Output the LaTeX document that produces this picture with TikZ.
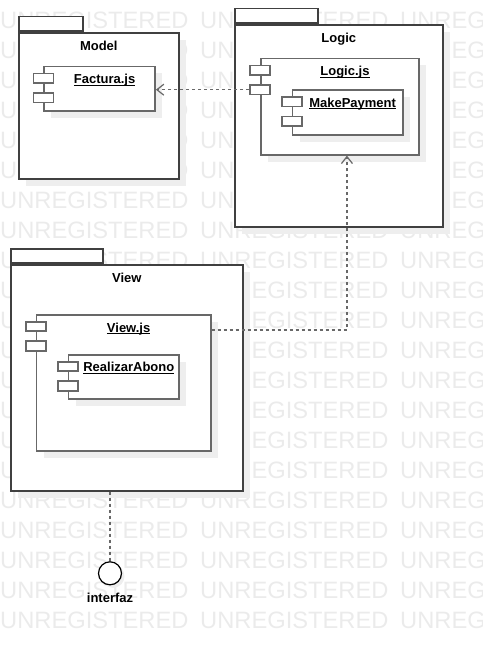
\documentclass[tikz,border=0pt]{standalone}
\usepackage{fontspec}
\setmainfont{Liberation Sans}
\usetikzlibrary{arrows.meta, positioning, shadows}

\definecolor{lineapkg}{HTML}{404040}
\definecolor{lineacmp}{HTML}{686868}
\definecolor{sombra}{HTML}{EEEEEE}
\definecolor{marca}{HTML}{EBEBEB}

% subrayado a altura fija, como en el original
\newcommand{\subrayado}[1]{\setbox0\hbox{#1}\rlap{\rule[-2pt]{\wd0}{0.9pt}}\box0}

\begin{document}
\begin{tikzpicture}[
		x=1pt, y=-1pt,
		% Paquete: cuerpo y pestaña
		pkg/.style = {draw=lineapkg, line width=1.6pt, fill=white, anchor=north west, inner sep=0pt,
			general shadow={fill=sombra, shadow xshift=7pt, shadow yshift=-7pt}},
		pkg_tab/.style = {draw=lineapkg, line width=1.6pt, fill=white, anchor=south west, inner sep=0pt, minimum height=14.5pt},
		% Componente y sus dos puertos
		comp/.style = {draw=lineacmp, line width=1.6pt, fill=white, anchor=north west, inner sep=0pt,
			general shadow={fill=sombra, shadow xshift=7pt, shadow yshift=-7pt}},
		port/.style = {draw=lineacmp, line width=1.6pt, fill=white, inner sep=0pt, minimum width=20pt, minimum height=9.5pt},
		pkg_name/.style = {inner sep=0pt, text height=9.5pt, text depth=0pt, font=\fontsize{13}{15}\selectfont\bfseries},
		cmp_name/.style = {pkg_name, xshift=5pt},
		dep/.style = {draw=lineacmp, line width=1.4pt, dash pattern=on 3pt off 3pt},
		iface/.style = {circle, draw=black, line width=1.2pt, fill=white, minimum size=23pt, inner sep=0pt,
			general shadow={fill=sombra, shadow xshift=3pt, shadow yshift=-3pt}},
		>={Straight Barb[length=7pt, width=11pt, line width=1.2pt]}
		]
		
		\useasboundingbox (0,0) rectangle (482,650);
		
		% --- MARCA DE AGUA ---
		\begin{scope}
			\clip (0,0) rectangle (482,650);
			\foreach \fila in {0,...,20}
				\foreach \col in {0,1,2}
					\node[anchor=west, inner sep=0pt, text=marca, font=\fontsize{23.7}{26}\selectfont] (marca_\fila_\col) at (200*\col, 20+30*\fila) {UNREGISTERED};
		\end{scope}
		
		% --- PAQUETE Model ---
		\node[pkg, minimum width=160pt, minimum height=146pt] (model) at (18,32) {};
		\node[pkg_tab, minimum width=64pt] (model_tab) at (model.north west) {};
		\node[pkg_name, below=8.5pt of model.north] (model_name) {Model};
		
		\node[comp, minimum width=111pt, minimum height=44.3pt] (factura) at (43.3,65.7) {};
		\node[cmp_name, below=8.5pt of factura.north] (factura_name) {\subrayado{Factura.js}};
		
		% --- PAQUETE Logic ---
		\node[pkg, minimum width=208pt, minimum height=202pt] (logic) at (234,24) {};
		\node[pkg_tab, minimum width=83pt] (logic_tab) at (logic.north west) {};
		\node[pkg_name, below=8.5pt of logic.north] (logic_name) {Logic};
		
		\node[comp, minimum width=158.3pt, minimum height=96.3pt] (logicjs) at (260,57.7) {};
		\node[cmp_name, below=8.5pt of logicjs.north] (logicjs_name) {\subrayado{Logic.js}};
		
		\node[comp, minimum width=110.3pt, minimum height=44.7pt] (pago) at (291.7,89.3) {};
		\node[cmp_name, below=8pt of pago.north] (pago_name) {\subrayado{MakePayment}};
		
		% --- PAQUETE View ---
		\node[pkg, minimum width=232pt, minimum height=226pt] (view) at (10,264) {};
		\node[pkg_tab, minimum width=92pt] (view_tab) at (view.north west) {};
		\node[pkg_name, below=8.5pt of view.north] (view_name) {View};
		
		\node[comp, minimum width=174.3pt, minimum height=136pt] (viewjs) at (35.7,314) {};
		\node[cmp_name, below=8.5pt of viewjs.north] (viewjs_name) {\subrayado{View.js}};
		
		\node[comp, minimum width=110.6pt, minimum height=44pt] (abono) at (67.7,354) {};
		\node[cmp_name, below=8pt of abono.north] (abono_name) {\subrayado{RealizarAbono}};
		
		% puertos de cada componente
		\foreach \c in {factura, logicjs, pago, viewjs, abono} {
			\node[port] (\c_p1) at ([yshift=-12.5pt]\c.north west) {};
			\node[port] (\c_p2) at ([yshift=-32pt]\c.north west) {};
		}
		
		% --- INTERFAZ ---
		\node[iface] (interfaz) at (110,573.3) {};
		\node[pkg_name, below=7.5pt of interfaz] (interfaz_name) {interfaz};
		
		% --- DEPENDENCIAS ---
		\draw[dep, ->] (logicjs_p2.west) -- (logicjs_p2.west -| factura.east);
		\draw[dep, ->] ([yshift=-16pt]viewjs.north east) -| ([xshift=7pt]logicjs.south);
		\draw[dep] (view.south -| interfaz.north) -- (interfaz.north);
		
	\end{tikzpicture}
\end{document}
